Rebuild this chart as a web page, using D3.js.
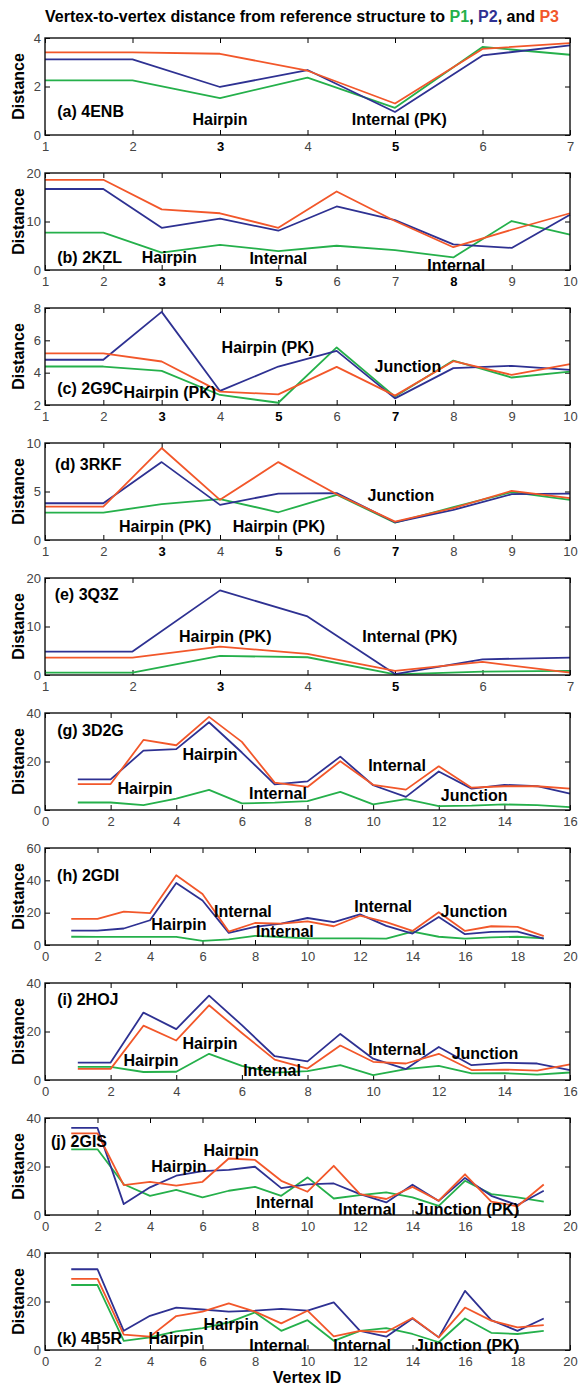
<!doctype html>
<html>
  <head>
    <script src="https://cdn.jsdelivr.net/npm/d3@7/dist/d3.min.js"></script>
    <style>
      body { margin: 0; background: #fff; }
      text { font-family: "Liberation Sans", Arial, Helvetica, sans-serif; }
    </style>
  </head>
  <body>
    <svg id="chart" width="578" height="1389"></svg>

    <script>
      // panel names, axis ranges and ticks
      var names   = ["(a) 4ENB", "(b) 2KZL", "(c) 2G9C", "(d) 3RKF", "(e) 3Q3Z",
                     "(g) 3D2G", "(h) 2GDI", "(i) 2HOJ", "(j) 2GIS", "(k) 4B5R"];
      var xDomains = [[1, 7], [1, 10], [1, 10], [1, 10], [1, 7],
                      [0, 16], [0, 20], [0, 16], [0, 20], [0, 20]];
      var yDomains = [[0, 4], [0, 20], [2, 8], [0, 10], [0, 20],
                      [0, 40], [0, 60], [0, 40], [0, 40], [0, 40]];
      var yTicks = [[0, 2, 4], [0, 10, 20], [2, 4, 6, 8], [0, 5, 10], [0, 10, 20],
                    [0, 20, 40], [0, 20, 40, 60], [0, 20, 40], [0, 20, 40], [0, 20, 40]];
      var xStep = [1, 1, 1, 1, 1, 2, 2, 2, 2, 2];
      var boldTicks = [[3, 5], [3, 5, 8], [3, 5, 7], [3, 5, 7], [3, 5], [], [], [], [], []];

      // distances, vertex ids start at 1
      var a_P1 = [2.25, 2.25, 1.52, 2.37, 1.12, 3.63, 3.31];
      var a_P2 = [3.12, 3.12, 1.98, 2.68, 0.95, 3.28, 3.70];
      var a_P3 = [3.41, 3.41, 3.35, 2.65, 1.30, 3.55, 3.79];

      var b_P1 = [7.7, 7.7, 3.6, 5.2, 3.9, 5.0, 4.1, 2.6, 10.1, 7.3];
      var b_P2 = [16.7, 16.7, 8.7, 10.6, 8.1, 13.1, 10.3, 5.3, 4.55, 11.4];
      var b_P3 = [18.6, 18.6, 12.5, 11.7, 8.7, 16.2, 10.1, 4.7, 8.3, 11.7];

      var c_P1 = [4.38, 4.38, 4.11, 2.62, 2.14, 5.56, 2.52, 4.75, 3.70, 4.07];
      var c_P2 = [4.80, 4.80, 7.76, 2.87, 4.38, 5.35, 2.41, 4.28, 4.42, 4.17];
      var c_P3 = [5.19, 5.19, 4.69, 2.83, 2.66, 4.36, 2.58, 4.71, 3.86, 4.53];

      var d_P1 = [2.83, 2.83, 3.69, 4.21, 2.86, 4.66, 1.79, 3.38, 4.93, 4.14];
      var d_P2 = [3.79, 3.79, 8.03, 3.62, 4.79, 4.83, 1.83, 3.10, 4.72, 4.79];
      var d_P3 = [3.45, 3.45, 9.48, 4.14, 8.03, 4.72, 1.90, 3.28, 5.07, 4.31];

      var e_P1 = [0.48, 0.48, 3.93, 3.66, 0.14, 0.69, 0.83];
      var e_P2 = [4.83, 4.83, 17.45, 12.07, 0.2, 3.24, 3.59];
      var e_P3 = [3.59, 3.59, 5.86, 4.34, 0.83, 2.69, 0.48];

      var g_P1 = [3.1, 3.1, 2.0, 4.7, 8.3, 2.7, 3.0, 3.7, 7.5, 2.3, 4.5, 1.6, 1.8, 2.3, 2.0, 1.2];
      var g_P2 = [12.6, 12.6, 24.5, 25.1, 36.2, 23.7, 10.6, 11.8, 22.0, 10.2, 5.4, 15.9, 8.8, 10.4, 9.8, 6.8];
      var g_P3 = [10.7, 10.7, 28.9, 26.7, 38.4, 28.1, 11.3, 9.5, 20.1, 10.4, 8.4, 18.0, 9.2, 9.8, 9.8, 8.8];

      var h_P1 = [5.1, 5.0, 5.0, 5.0, 5.0, 2.6, 3.5, 5.7, 4.9, 4.1, 4.1, 4.1, 4.0, 8.3, 5.1, 3.9, 4.7, 5.1, 4.1];
      var h_P2 = [8.9, 8.9, 10.2, 15.3, 38.4, 27.5, 7.5, 11.2, 13.2, 16.7, 14.2, 18.9, 11.8, 7.1, 17.3, 6.7, 8.1, 8.3, 3.9];
      var h_P3 = [16.1, 16.1, 20.7, 19.7, 43.1, 31.5, 8.3, 13.6, 13.2, 14.6, 11.6, 18.1, 14.2, 8.7, 20.3, 8.7, 11.6, 11.2, 5.5];

      var i_P1 = [5.4, 5.4, 3.3, 3.4, 10.8, 5.8, 3.0, 3.7, 6.1, 2.0, 4.5, 5.8, 2.7, 2.8, 2.2, 3.1];
      var i_P2 = [7.2, 7.2, 27.8, 21.0, 34.8, 22.6, 9.8, 7.7, 19.0, 8.8, 4.5, 13.6, 6.1, 7.1, 6.8, 4.1];
      var i_P3 = [4.6, 4.6, 22.4, 16.3, 30.8, 19.4, 8.4, 4.7, 14.2, 7.5, 6.8, 10.8, 4.1, 4.3, 3.9, 6.4];

      var j_P1 = [27.1, 27.1, 12.7, 7.9, 10.4, 7.3, 10.0, 11.6, 7.9, 15.5, 6.8, 8.2, 9.3, 7.3, 3.8, 14.1, 8.6, 7.3, 5.5];
      var j_P2 = [35.9, 35.9, 4.5, 11.4, 16.2, 18.1, 18.6, 19.9, 11.1, 12.6, 13.0, 8.6, 5.2, 12.5, 5.8, 15.3, 7.9, 4.1, 10.0];
      var j_P3 = [33.7, 33.7, 12.3, 13.7, 12.1, 13.7, 23.3, 22.7, 14.1, 9.6, 20.3, 8.6, 6.6, 11.6, 5.9, 16.8, 5.5, 3.6, 12.6];

      var k_P1 = [26.8, 26.8, 3.8, 5.2, 7.7, 9.0, 11.4, 15.5, 7.9, 12.3, 3.8, 7.9, 9.0, 6.6, 3.2, 13.0, 7.1, 6.6, 7.9];
      var k_P2 = [33.3, 33.3, 7.9, 14.1, 17.5, 16.7, 15.8, 16.2, 17.0, 16.2, 19.6, 7.9, 5.5, 13.0, 5.2, 24.4, 12.3, 7.9, 13.0];
      var k_P3 = [29.3, 29.3, 6.3, 5.5, 14.0, 15.8, 19.2, 15.8, 11.0, 16.2, 5.6, 7.9, 7.4, 13.2, 5.2, 17.5, 12.1, 9.3, 10.3];

      // loop-type annotations: [text, vertex, distance]
      var a_notes = [["Hairpin", 3.0, 0.41], ["Internal (PK)", 5.05, 0.41]];
      var b_notes = [["Hairpin", 3.13, 1.44], ["Internal", 5.0, 1.3], ["Internal", 8.05, -0.2]];
      var c_notes = [["Hairpin (PK)", 3.14, 2.43], ["Hairpin (PK)", 4.82, 5.22], ["Junction", 7.22, 4.04]];
      var d_notes = [["Hairpin (PK)", 3.06, 0.82], ["Hairpin (PK)", 5.01, 0.82], ["Junction", 7.1, 4.02]];
      var e_notes = [["Hairpin (PK)", 3.06, 6.8], ["Internal (PK)", 5.17, 6.8]];
      var g_notes = [["Hairpin", 3.05, 6.6], ["Hairpin", 5.03, 20.6], ["Internal", 7.1, 4.5],
                     ["Internal", 10.73, 16.1], ["Junction", 13.08, 3.7]];
      var h_notes = [["Hairpin", 5.1, 9.3], ["Internal", 7.54, 17.3], ["Internal", 9.14, 4.9],
                     ["Internal", 12.88, 20.4], ["Junction", 16.34, 17.3]];
      var i_notes = [["Hairpin", 3.23, 5.8], ["Hairpin", 5.03, 12.8], ["Internal", 6.92, 1.6],
                     ["Internal", 10.73, 10.3], ["Junction", 13.41, 8.7]];
      var j_notes = [["Hairpin", 5.1, 17.7], ["Hairpin", 7.09, 24.3], ["Internal", 9.14, 2.9],
                     ["Internal", 12.27, 0], ["Junction (PK)", 16.08, 0]];
      var k_notes = [["Hairpin", 4.99, 2.5], ["Hairpin", 7.09, 8.2], ["Internal", 8.88, -0.4],
                     ["Internal", 12.08, -0.4], ["Junction (PK)", 16.08, -0.4]];
      // where each panel name starts: [vertex, distance]
      var namePos = [[1.14, 0.74], [1.21, 1.44], [1.21, 2.68], [1.17, 7.22], [1.11, 15.46],
                     [0.37, 30.5], [0.46, 39.6], [0.37, 30.9], [0.23, 28.0], [0.46, 2.5]];

      var seriesNames = ["P1", "P2", "P3"];
      var colors = ["#25b04b", "#2e3192", "#f2572a"];

      var panels = [
        [a_P1, a_P2, a_P3, a_notes], [b_P1, b_P2, b_P3, b_notes], [c_P1, c_P2, c_P3, c_notes],
        [d_P1, d_P2, d_P3, d_notes], [e_P1, e_P2, e_P3, e_notes], [g_P1, g_P2, g_P3, g_notes],
        [h_P1, h_P2, h_P3, h_notes], [i_P1, i_P2, i_P3, i_notes], [j_P1, j_P2, j_P3, j_notes],
        [k_P1, k_P2, k_P3, k_notes]
      ];

      var svg = d3.select("#chart");
      var left = 45, right = 570, top0 = 38, pitch = 135, ph = 97;
      var fmt = d3.format("d");

      // title with coloured series names
      var title = svg.append("text")
        .attr("x", 302).attr("y", 22)
        .attr("text-anchor", "middle")
        .attr("font-size", 16).attr("font-weight", "bold");
      title.append("tspan").text("Vertex-to-vertex distance from reference structure to ");
      title.append("tspan").attr("fill", colors[0]).text(seriesNames[0]);
      title.append("tspan").text(", ");
      title.append("tspan").attr("fill", colors[1]).text(seriesNames[1]);
      title.append("tspan").text(", and ");
      title.append("tspan").attr("fill", colors[2]).text(seriesNames[2]);

      panels.forEach(function(p, n) {
        var top = top0 + n * pitch;
        var g = svg.append("g").attr("transform", "translate(0," + top + ")");

        var x = d3.scaleLinear().domain(xDomains[n]).range([left, right]);
        var y = d3.scaleLinear().domain(yDomains[n]).range([ph, 0]);
        var xt = d3.range(xDomains[n][0], xDomains[n][1] + 0.001, xStep[n]);

        var bottom = g.append("g").attr("transform", "translate(0," + ph + ")")
          .call(d3.axisBottom(x).tickValues(xt).tickFormat(fmt)
            .tickSizeInner(-5).tickSizeOuter(0).tickPadding(7));
        bottom.selectAll("text")
          .attr("font-weight", function(d) { return boldTicks[n].indexOf(d) >= 0 ? "bold" : "normal"; })
          .attr("fill", function(d) { return boldTicks[n].indexOf(d) >= 0 ? "#000" : "#444"; });
        g.append("g")
          .call(d3.axisTop(x).tickValues(xt).tickSizeInner(-5).tickSizeOuter(0).tickFormat(""));
        g.append("g").attr("transform", "translate(" + left + ",0)")
          .call(d3.axisLeft(y).tickValues(yTicks[n]).tickFormat(fmt)
            .tickSizeInner(-5).tickSizeOuter(0).tickPadding(4))
          .selectAll("text").attr("fill", "#444");
        g.append("g").attr("transform", "translate(" + right + ",0)")
          .call(d3.axisRight(y).tickValues(yTicks[n]).tickSizeInner(-5).tickSizeOuter(0).tickFormat(""));
        g.selectAll(".domain").remove();
        g.selectAll(".tick line").attr("stroke", "#000").attr("stroke-width", 1);
        g.selectAll(".tick text").attr("font-size", 13)
          .attr("font-family", "'Liberation Sans', Arial, sans-serif");

        var line = d3.line()
          .x(function(d, i) { return x(i + 1); })
          .y(function(d) { return y(d); });

        [p[0], p[1], p[2]].forEach(function(vals, s) {
          g.append("path")
            .attr("d", line(vals))
            .attr("fill", "none")
            .attr("stroke", colors[s])
            .attr("stroke-width", 1.8)
            .attr("stroke-linejoin", "round");
        });

        g.append("rect")
          .attr("x", left).attr("y", 0)
          .attr("width", right - left).attr("height", ph)
          .attr("fill", "none").attr("stroke", "#111").attr("stroke-width", 1.4);

        g.append("text")
          .attr("x", x(namePos[n][0])).attr("y", y(namePos[n][1]))
          .attr("font-size", 16).attr("font-weight", "bold")
          .text(names[n]);

        g.selectAll("text.note")
          .data(p[3])
          .enter()
          .append("text")
            .attr("class", "note")
            .attr("x", function(d) { return x(d[1]); })
            .attr("y", function(d) { return y(d[2]); })
            .attr("text-anchor", "middle")
            .attr("font-size", 16).attr("font-weight", "bold")
            .text(function(d) { return d[0]; });

        g.append("text")
          .attr("transform", "translate(24," + (ph / 2) + ") rotate(-90)")
          .attr("text-anchor", "middle")
          .attr("font-size", 16).attr("font-weight", "bold")
          .text("Distance");
      });

      svg.append("text")
        .attr("x", 307).attr("y", 1383)
        .attr("text-anchor", "middle")
        .attr("font-size", 16).attr("font-weight", "bold")
        .text("Vertex ID");
    </script>
  </body>
</html>
